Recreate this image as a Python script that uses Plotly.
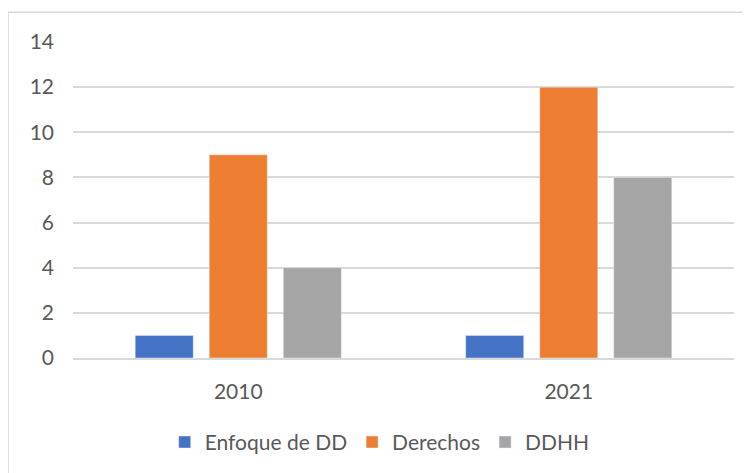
import plotly.graph_objects as go

# datos
anios = ["2010", "2021"]
enfoque_dd = [1, 1]
derechos = [9, 12]
ddhh = [4, 8]
y_ticks = [0, 2, 4, 6, 8, 10, 12, 14]

texto = "#595959"
grid = "#D9D9D9"
fuente = "Lato"

fig = go.Figure()
fig.add_trace(go.Bar(name="Enfoque de DD", x=anios, y=enfoque_dd, marker_color="#4472C4"))
fig.add_trace(go.Bar(name="Derechos", x=anios, y=derechos, marker_color="#ED7D31"))
fig.add_trace(go.Bar(name="DDHH", x=anios, y=ddhh, marker_color="#A5A5A5"))

# la pagina deja 8px de margen en el body
fig.update_layout(
    width=750, height=473,
    margin=dict(l=65, r=24, t=34, b=123),
    paper_bgcolor="white", plot_bgcolor="white",
    barmode="group", bargap=0.328, bargroupgap=0.216,
    font=dict(family=fuente, size=21, color=texto),
    showlegend=True,
    legend=dict(orientation="h", x=0.464, xanchor="center", y=-0.267, yanchor="middle",
                font=dict(size=21, color=texto), itemclick=False, tracegroupgap=0),
    shapes=[dict(type="rect", xref="paper", yref="paper",
                 x0=-0.0983, x1=1.06, y0=-0.45, y1=1.094,
                 line=dict(color="#D9D9D9", width=1.5), layer="below")],
)
fig.update_xaxes(showgrid=False, showline=True, linecolor=grid, linewidth=1.5,
                 ticks="", ticklabelstandoff=14)
fig.update_yaxes(range=[0, 14], tickvals=y_ticks, showgrid=True, gridcolor=grid, gridwidth=1.5,
                 zeroline=False, showline=False, ticks="", ticklabelstandoff=18)

fig.write_html("out.html")
